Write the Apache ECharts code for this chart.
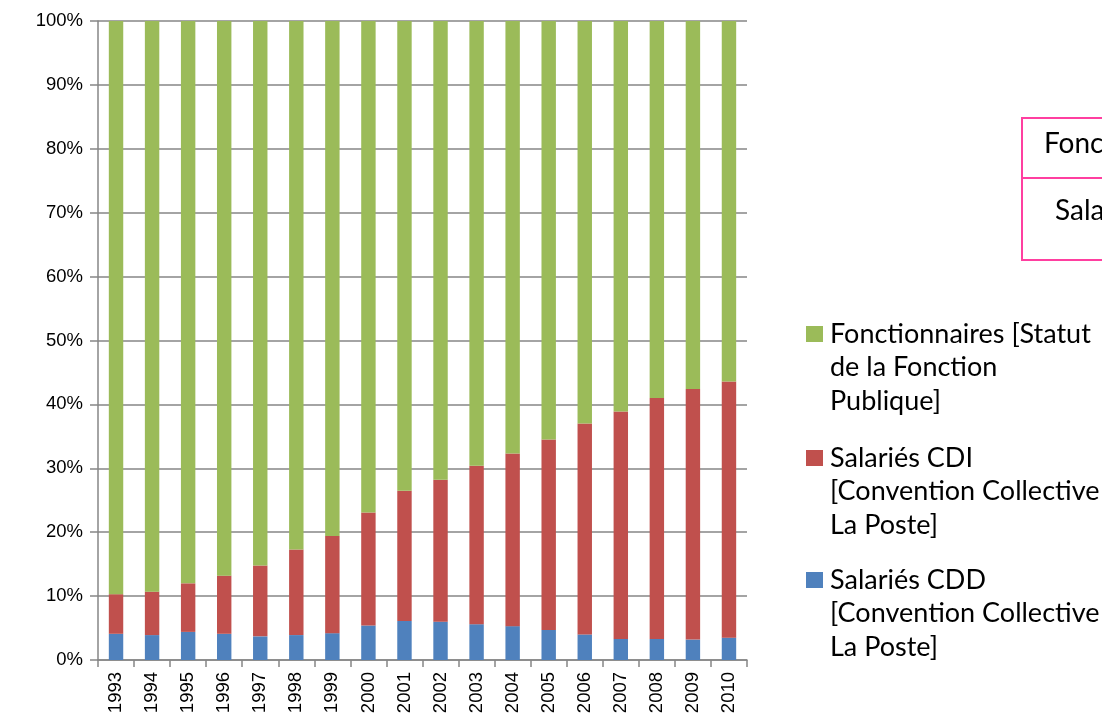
<!DOCTYPE html>
<html><head><meta charset="utf-8">
<script src="https://cdn.jsdelivr.net/npm/echarts@6/dist/echarts.min.js"></script>
<style>html,body{margin:0;padding:0;background:#fff}#c{width:1102px;height:723px}</style>
</head><body><div id="c"></div>
<script>
const years = ['1993','1994','1995','1996','1997','1998','1999','2000','2001','2002','2003','2004','2005','2006','2007','2008','2009','2010'];
const cdd   = [4.1,3.9,4.4,4.1,3.7,3.9,4.2,5.4,6.1,6.0,5.6,5.3,4.7,4.0,3.3,3.3,3.2,3.5];
const cdi   = [6.2,6.8,7.6,9.1,11.1,13.4,15.2,17.7,20.4,22.2,24.8,27.0,29.8,33.0,35.6,37.7,39.2,40.1];
const fonct = [89.7,89.3,88.0,86.8,85.2,82.7,80.6,76.9,73.5,71.8,69.6,67.7,65.5,63.0,61.1,59.0,57.6,56.4];
const seriesNames = ['Fonctionnaires [Statut de la Fonction Publique]','Salariés CDI [Convention Collective La Poste]','Salariés CDD [Convention Collective La Poste]'];
const legendLines = [['Fonctionnaires [Statut','de la Fonction','Publique]'],['Salariés CDI','[Convention Collective','La Poste]'],['Salariés CDD','[Convention Collective','La Poste]']];
const colors = ['#9BBB59','#C0504D','#4F81BD'];
const boxLabels = ['Fonctionnaires','Salariés'];

const chart = echarts.init(document.getElementById('c'), null, {renderer:'canvas'});
const axisGray = '#868686';
const legendCenters = [334, 458, 580];
const lh = 33.5;
const graphics = [];
legendLines.forEach((lines, i) => {
  graphics.push({type:'rect', shape:{x:806, y:legendCenters[i]-8, width:17, height:16}, style:{fill:colors[i]}});
  graphics.push({type:'text', x:830, y:legendCenters[i]-lh/2, style:{text:lines.join('\n'), font:'27px Lato', fill:'#000', lineHeight:lh, verticalAlign:'top', align:'left'}});
});
graphics.push({type:'rect', shape:{x:1022, y:118, width:200, height:142}, style:{fill:'#fff', stroke:'#FF3FA0', lineWidth:2}});
graphics.push({type:'line', shape:{x1:1022, y1:178, x2:1102, y2:178}, style:{stroke:'#FF3FA0', lineWidth:2}});
graphics.push({type:'text', x:1044, y:144, style:{text:boxLabels[0], font:'28px Lato', fill:'#000', verticalAlign:'middle'}});
graphics.push({type:'text', x:1055, y:211, style:{text:boxLabels[1], font:'28px Lato', fill:'#000', verticalAlign:'middle'}});

const mk = (name, data, color) => ({name, type:'bar', stack:'t', data, barWidth:'40%', itemStyle:{color}, emphasis:{disabled:true}});
chart.setOption({
  animation:false,
  grid:{left:98, right:355, top:21, bottom:63, containLabel:false},
  xAxis:{type:'category', data:years,
    axisLine:{lineStyle:{color:axisGray, width:1.5}},
    axisTick:{show:true, length:7, lineStyle:{color:axisGray, width:1.5}},
    axisLabel:{rotate:90, margin:12, fontFamily:'Liberation Sans', fontSize:18.5, color:'#000'}},
  yAxis:{type:'value', min:0, max:100, interval:10,
    axisLine:{show:true, lineStyle:{color:axisGray, width:1.5}},
    axisTick:{show:true, length:8, lineStyle:{color:axisGray, width:1.5}},
    splitLine:{lineStyle:{color:axisGray, width:1.5}},
    axisLabel:{formatter:'{value}%', margin:15, fontFamily:'Liberation Sans', fontSize:18.5, color:'#000'}},
  series:[mk(seriesNames[2], cdd, colors[2]), mk(seriesNames[1], cdi, colors[1]), mk(seriesNames[0], fonct, colors[0])],
  graphic:graphics
});
</script></body></html>
